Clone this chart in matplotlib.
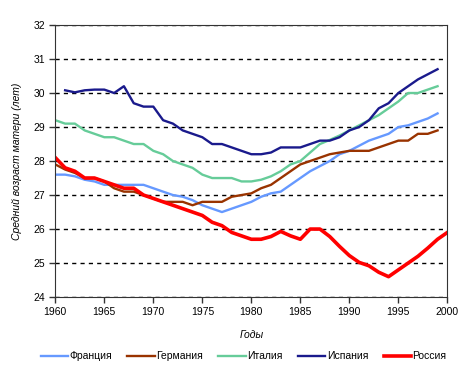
import matplotlib
matplotlib.use("Agg")
import matplotlib.pyplot as plt

# Средний возраст матери при рождении ребёнка, 1960-2000
years = list(range(1960, 2001))

france = [27.6, 27.6, 27.55, 27.45, 27.4, 27.3, 27.3, 27.3, 27.3, 27.3,
          27.2, 27.1, 27.0, 26.95, 26.85, 26.7, 26.6, 26.5, 26.6, 26.7,
          26.8, 26.95, 27.05, 27.1, 27.3, 27.5, 27.7, 27.85, 28.0, 28.2,
          28.3, 28.45, 28.6, 28.7, 28.8, 29.0, 29.05, 29.15, 29.25, 29.4]

germany = [27.9, 27.75, 27.65, 27.5, 27.5, 27.4, 27.2, 27.1, 27.1, 27.0,
           26.9, 26.8, 26.8, 26.8, 26.7, 26.8, 26.8, 26.8, 26.95, 27.0,
           27.05, 27.2, 27.3, 27.5, 27.7, 27.9, 28.0, 28.1, 28.2, 28.25,
           28.3, 28.3, 28.3, 28.4, 28.5, 28.6, 28.6, 28.8, 28.8, 28.9]

italy = [29.2, 29.1, 29.1, 28.9, 28.8, 28.7, 28.7, 28.6, 28.5, 28.5,
         28.3, 28.2, 28.0, 27.9, 27.8, 27.6, 27.5, 27.5, 27.5, 27.4,
         27.4, 27.45, 27.55, 27.7, 27.9, 28.0, 28.25, 28.5, 28.62, 28.75,
         28.9, 29.05, 29.2, 29.35, 29.55, 29.75, 30.0, 30.0, 30.1, 30.2]

# Испания: данные с 1961 года
spain = [30.08, 30.02, 30.08, 30.1, 30.1, 30.0, 30.2, 29.7, 29.6,
         29.6, 29.2, 29.1, 28.9, 28.8, 28.7, 28.5, 28.5, 28.4, 28.3,
         28.2, 28.2, 28.25, 28.4, 28.4, 28.4, 28.5, 28.6, 28.6, 28.7,
         28.9, 29.0, 29.2, 29.55, 29.7, 30.0, 30.2, 30.4, 30.55, 30.7]

russia = [28.1, 27.8, 27.7, 27.5, 27.5, 27.4, 27.3, 27.2, 27.2, 27.0,
          26.9, 26.8, 26.7, 26.6, 26.5, 26.4, 26.2, 26.1, 25.9, 25.8,
          25.7, 25.7, 25.78, 25.93, 25.8, 25.7, 26.0, 26.0, 25.78, 25.49,
          25.22, 25.02, 24.92, 24.73, 24.6, 24.8, 25.0, 25.2, 25.44, 25.7,
          25.9]

plt.rcParams['font.family'] = ['Liberation Sans', 'DejaVu Sans']

fig = plt.figure(figsize=(4.66, 3.77), dpi=100)
ax = fig.add_axes([0.1187, 0.212, 0.8413, 0.7217])

ax.plot(years[:40], france, color="#6699FF", lw=1.7, label="Франция")
ax.plot(years[:40], germany, color="#993300", lw=1.7, label="Германия")
ax.plot(years[:40], italy, color="#66CC99", lw=1.7, label="Италия")
ax.plot(years[1:40], spain, color="#1A1A8C", lw=1.7, label="Испания")
ax.plot(years, russia, color="#FF0000", lw=2.6, label="Россия")

ax.set_xlim(1960, 2000)
ax.set_ylim(24, 32)
ax.set_xticks(range(1960, 2001, 5))
ax.set_yticks(range(24, 33))
ax.yaxis.grid(True, color="black", linestyle=(0, (3, 3)), lw=1)
ax.set_axisbelow(True)
ax.tick_params(labelsize=7.5, direction="out", length=4, width=1, colors="#333333")
ax.tick_params(labelcolor="black")
for s in ax.spines.values():
    s.set_color("#333333")

ax.set_xlabel("Годы", fontsize=7.5, style="italic", labelpad=9)
ax.set_ylabel("Средний возраст матери (лет)", fontsize=7.5, style="italic", labelpad=8)

ax.legend(loc="upper center", bbox_to_anchor=(0.48, -0.2), ncol=5, frameon=False,
          fontsize=7.5, handlelength=2.6, handletextpad=0.15, columnspacing=1.5,
          borderpad=0, borderaxespad=0)

fig.savefig("out.png", dpi=100)
